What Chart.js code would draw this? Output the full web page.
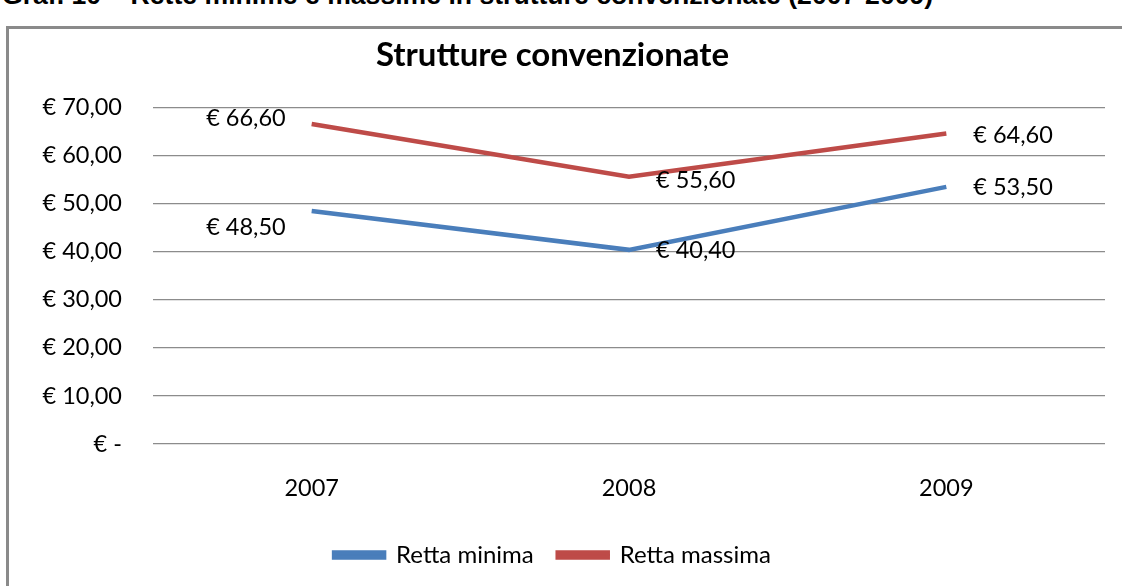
<!DOCTYPE html>
<html>
<head>
<meta charset="utf-8">
<script src="https://cdn.jsdelivr.net/npm/chart.js@4.4.0/dist/chart.umd.min.js"></script>
<style>
    body { margin: 0; background: #fff; overflow: hidden; }
    #caption {
        position: absolute; left: 2px; top: -20px; white-space: nowrap; line-height: 26px;
        font: bold 26.6px "Liberation Sans", Arial, sans-serif; color: #000;
    }
    #frame {
        position: absolute; left: 6px; top: 26px; width: 1130px; height: 600px;
        border: 3px solid #8a8a8a; box-sizing: border-box;
    }
    #wrap { position: absolute; left: 0; top: 0; width: 1122px; height: 586px; }
</style>
</head>
<body>
<div id="caption">Graf. 10 – Rette minime e massime in strutture convenzionate (2007-2009)</div>
<div id="frame"></div>
<div id="wrap"><canvas id="lineChart"></canvas></div>
<script>
const years = ['2007', '2008', '2009'];
const rettaMinima = [48.5, 40.4, 53.5];
const rettaMassima = [66.6, 55.6, 64.6];
const yTicks = [0, 10, 20, 30, 40, 50, 60, 70];

const FONT = 'Lato, "Open Sans", sans-serif';

function euro(v) {
    if (v === 0) return '€ -';
    return '€ ' + v.toFixed(2).replace('.', ',');
}

// value labels next to each point, Excel-style
const valueLabels = {
    id: 'valueLabels',
    afterDatasetsDraw(chart) {
        const ctx = chart.ctx;
        const shiftY = [[16, 1, 1], [-6, 4, 2]];
        ctx.save();
        ctx.font = '23.5px ' + FONT;
        ctx.fillStyle = '#000';
        ctx.textBaseline = 'middle';
        chart.data.datasets.forEach((ds, di) => {
            chart.getDatasetMeta(di).data.forEach((pt, i) => {
                if (i === 0) {
                    ctx.textAlign = 'right';
                    ctx.fillText(euro(ds.data[i]), pt.x - 26, pt.y + shiftY[di][i]);
                } else {
                    ctx.textAlign = 'left';
                    ctx.fillText(euro(ds.data[i]), pt.x + 27, pt.y + shiftY[di][i]);
                }
            });
        });
        ctx.restore();
    }
};

const ctx = document.getElementById('lineChart').getContext('2d');
new Chart(ctx, {
    type: 'line',
    data: {
        labels: years,
        datasets: [
            {
                label: 'Retta minima',
                data: rettaMinima,
                borderColor: '#4a7ebb',
                backgroundColor: '#4a7ebb',
                borderWidth: 4.5,
                pointRadius: 0,
                tension: 0
            },
            {
                label: 'Retta massima',
                data: rettaMassima,
                borderColor: '#be4b48',
                backgroundColor: '#be4b48',
                borderWidth: 4.5,
                pointRadius: 0,
                tension: 0
            }
        ]
    },
    options: {
        responsive: true,
        maintainAspectRatio: false,
        animation: false,
        layout: { padding: { top: 26, right: 17, left: 0, bottom: 9 } },
        plugins: {
            title: {
                display: true,
                text: 'Strutture convenzionate',
                color: '#000',
                font: { family: FONT, size: 33, weight: 'bold' },
                padding: { top: 10, bottom: 32 }
            },
            legend: {
                position: 'bottom',
                labels: {
                    color: '#000',
                    font: { family: FONT, size: 24 },
                    boxWidth: 50,
                    boxHeight: 5,
                    padding: 24
                }
            },
            tooltip: { enabled: false }
        },
        scales: {
            x: {
                offset: true,
                grid: { display: false, drawTicks: false },
                border: { display: false },
                ticks: { color: '#000', font: { family: FONT, size: 23.5 }, padding: 30 },
                afterFit: s => { s.height = 75; }
            },
            y: {
                min: 0,
                max: 70,
                afterBuildTicks: s => { s.ticks = yTicks.map(v => ({ value: v })); },
                grid: { color: '#8c8c8c', lineWidth: 1.3, drawTicks: false },
                border: { display: false },
                ticks: {
                    color: '#000',
                    font: { family: FONT, size: 23.5 },
                    padding: 31,
                    callback: v => euro(v)
                },
                afterFit: s => { s.width = 153; }
            }
        }
    },
    plugins: [valueLabels]
});
</script>
</body>
</html>
